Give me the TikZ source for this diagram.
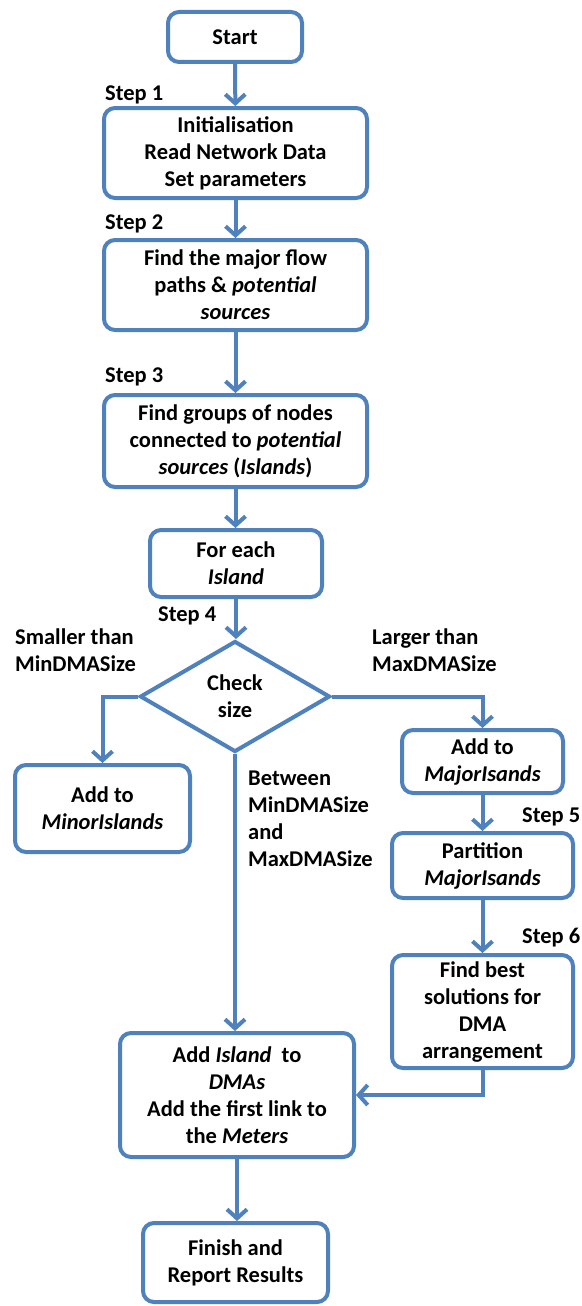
\documentclass[tikz,border=0pt]{standalone}
\usepackage{fontspec}
\setmainfont{Carlito}
\usepackage{xcolor}
\usetikzlibrary{arrows.meta,shapes.geometric}
\definecolor{flowblue}{RGB}{79,129,189}
\tikzset{
  box/.style={draw=flowblue, line width=4pt, rounded corners=11pt, fill=white,
    align=center, inner sep=0pt, font=\fontsize{22.5}{27}\selectfont\bfseries},
  flow/.style={draw=flowblue, line width=4pt,
    -{Straight Barb[length=9pt,width=20pt]}},
  lbl/.style={anchor=north west, inner sep=0pt, align=left,
    font=\fontsize{22.5}{27}\selectfont\bfseries}
}
\begin{document}
\begin{tikzpicture}[x=1pt,y=-1pt]
  \useasboundingbox (0,0) rectangle (581,1306);
  \node[box, minimum width=134, minimum height=50] (start) at (235,37) {Start};
  \node[box, minimum width=263, minimum height=90] (init) at (235.5,153)
    {Initialisation\\Read Network Data\\Set parameters};
  \node[box, minimum width=263, minimum height=90] (paths) at (235.5,285)
    {Find the major flow\\paths \& \textit{potential}\\\textit{sources}};
  \node[box, minimum width=263, minimum height=92] (groups) at (235.5,441)
    {Find groups of nodes\\connected to \textit{potential}\\\textit{sources} (\textit{Islands})};
  \node[box, minimum width=172, minimum height=67] (foreach) at (236,563.5)
    {For each\\\textit{Island}};
  \node[box, shape=diamond, rounded corners=0pt, minimum width=190, minimum height=111]
    (check) at (235,696.5) {Check\\size};
  \node[box, minimum width=175, minimum height=87] (minor) at (102.5,808.5)
    {Add to\\\textit{MinorIslands}};
  \node[box, minimum width=161, minimum height=63] (major) at (482.5,761.5)
    {Add to\\\textit{MajorIsands}};
  \node[box, minimum width=181, minimum height=65] (partition) at (482.5,865.5)
    {Partition\\\textit{MajorIsands}};
  \node[box, minimum width=181, minimum height=113] (best) at (482.5,1011.5)
    {Find best\\solutions for\\DMA\\arrangement};
  \node[box, minimum width=234, minimum height=124] (addisl) at (237,1095)
    {Add \textit{Island}~ to\\\textit{DMAs}\\Add the first link to\\the \textit{Meters}};
  \node[box, minimum width=185, minimum height=79] (finish) at (235.5,1262.5)
    {Finish and\\Report Results};
  % step labels
  \foreach \s/\x/\y in {1/105/86, 2/105/215, 3/105/368, 4/158/607, 5/522/808, 6/522/928}
    \node[lbl] (step\s) at (\x,\y) {Step \s};
  \node[lbl] (small) at (15,629) {Smaller than\\MinDMASize};
  \node[lbl] (large) at (372,629) {Larger than\\MaxDMASize};
  \node[lbl] (between) at (248,771) {Between\\MinDMASize\\and\\MaxDMASize};
  % connectors
  \draw[flow] (start) -- (init);
  \draw[flow] (init) -- (paths);
  \draw[flow] (paths) -- (groups);
  \draw[flow] (groups.south) -- (groups.south |- foreach.north);
  \draw[flow] (foreach.south) -- (foreach.south |- check.north);
  \draw[flow] (check.west) -| (minor.north);
  \draw[flow] (check.east) -| (major.north);
  \draw[flow] (major) -- (partition);
  \draw[flow] (partition) -- (best);
  \draw[flow] (best.south) |- (addisl.east);
  \draw[flow] (check.south) -- (check.south |- addisl.north);
  \draw[flow] (addisl.south) -- (addisl.south |- finish.north);
\end{tikzpicture}
\end{document}
